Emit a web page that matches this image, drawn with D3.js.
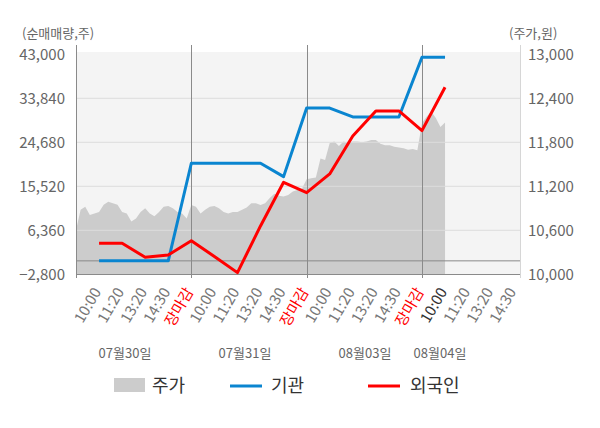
<!DOCTYPE html>
<html><head><meta charset="utf-8">
<script src="https://cdn.jsdelivr.net/npm/d3@7/dist/d3.min.js"></script>
<style>
body{margin:0;background:#fff;}
svg{display:block;font-family:"Noto Sans CJK KR","Noto Sans",sans-serif;}
</style></head>
<body><svg id="c" width="600" height="428"></svg>
<script>
// ---- data ----
const dayLabels = ["07월30일","07월31일","08월03일","08월04일"];
const timeLabels = ["10:00","11:20","13:20","14:30","장마감"];
const leftTicks = [-2800, 6360, 15520, 24680, 33840, 43000];
const rightTicks = [10000, 10600, 11200, 11800, 12400, 13000];
// net buying at slot 1..16
const institution = [0, 0, 0, 0, 20320, 20320, 20320, 20320, 17530, 31800, 31800, 29960, 29960, 29960, 42400, 42400];
const foreigner = [3660, 3660, 750, 1230, 4200, 900, -2450, 7270, 16360, 14200, 18100, 26000, 31200, 31200, 27110, 36140];
// intraday price, sampled every 1/5 slot
const priceDay1 = [10600,10880,10920,10810,10830,10850,10950,10990,10970,10950,10850,10830,10720,10760,10850,10900,10830,10790,10850,10920,10930,10900,10850,10830,10760];
const priceDay2 = [10945,10920,10830,10880,10920,10930,10900,10850,10830,10850,10850,10880,10910,10970,10970,10945,10970,11040,11100,11070,11060,11080,11130,11150,11170];
const priceDay3 = [11295,11310,11320,11580,11560,11790,11810,11750,11810,11790,11810,11810,11800,11810,11830,11830,11780,11760,11760,11740,11730,11720,11700,11710,11690];
const priceDay4 = [12060,12150,12220,12130,12010,12070];

const svg = d3.select("#c");
const L = 76, R = 520, T = 52, B = 274;
const x = d3.scaleLinear().domain([0, 19.25]).range([L, R]);
const yL = d3.scaleLinear().domain([-2800, 43000]).range([274.3, 54.3]);
const yR = d3.scaleLinear().domain([10000, 13000]).range([274.3, 54.3]);

svg.append("rect").attr("x", L).attr("y", T).attr("width", R - L).attr("height", B - T).attr("fill", "#f4f4f4");

// price area
const price = [];
[priceDay1, priceDay2, priceDay3, priceDay4].forEach((arr, d) => {
  arr.forEach((v, i) => price.push({ i: d * 5 + i * 0.2, v }));
});
svg.append("path").datum(price)
  .attr("fill", "#cccccc")
  .attr("d", d3.area().x(d => x(d.i)).y0(B).y1(d => yR(d.v)));

// gridlines
svg.append("g").selectAll("line").data(leftTicks.slice(1, 5)).join("line")
  .attr("x1", L).attr("x2", R).attr("y1", d => yL(d)).attr("y2", d => yL(d))
  .attr("stroke", "#dcdcdc").attr("stroke-width", 1);
// zero line
svg.append("line").attr("x1", L).attr("x2", R).attr("y1", yL(0)).attr("y2", yL(0))
  .attr("stroke", "#8a8a8a").attr("stroke-width", 1);

// day separators
svg.append("g").selectAll("line").data([0, 5, 10, 15]).join("line")
  .attr("x1", d => Math.round(x(d)) + 0.5).attr("x2", d => Math.round(x(d)) + 0.5)
  .attr("y1", 45).attr("y2", 278)
  .attr("stroke", "#8a8a8a").attr("stroke-width", 1);
// right axis line
svg.append("line").attr("x1", R + 0.5).attr("x2", R + 0.5).attr("y1", 45).attr("y2", 278)
  .attr("stroke", "#d6d6d6");
// bottom axis line
svg.append("line").attr("x1", L).attr("x2", R).attr("y1", B + 0.5).attr("y2", B + 0.5)
  .attr("stroke", "#8a8a8a");

// lines
const slot = (d, i) => ({ i: i + 1, v: d });
const line = d3.line().x(d => x(d.i)).y(d => yL(d.v));
svg.append("path").datum(institution.map(slot)).attr("fill", "none")
  .attr("stroke", "#0a85d0").attr("stroke-width", 3).attr("stroke-linejoin", "round").attr("d", line);
svg.append("path").datum(foreigner.map(slot)).attr("fill", "none")
  .attr("stroke", "#ff0000").attr("stroke-width", 3).attr("stroke-linejoin", "round").attr("d", line);

// y labels
svg.append("g").selectAll("text").data(leftTicks).join("text")
  .attr("x", 65).attr("y", d => yL(d)).attr("dy", "0.35em").attr("text-anchor", "end")
  .attr("font-size", 15).attr("fill", "#666").text(d => d3.format(",")(d));
svg.append("g").selectAll("text").data(rightTicks).join("text")
  .attr("x", 528).attr("y", d => yR(d)).attr("dy", "0.35em").attr("text-anchor", "start")
  .attr("font-size", 15).attr("fill", "#666").text(d => d3.format(",")(d));
svg.append("text").attr("x", 22).attr("y", 38).attr("font-size", 13).attr("fill", "#666").text("(순매매량,주)");
svg.append("text").attr("x", 509).attr("y", 38).attr("font-size", 13).attr("fill", "#666").text("(주가,원)");

// x labels
const xl = [];
for (let d = 0; d < 4; d++) {
  timeLabels.forEach((t, k) => {
    if (d === 3 && k === 4) return;
    xl.push({ i: d * 5 + k + 1, t, color: k === 4 ? "#ff0000" : (d === 3 && k === 0 ? "#333" : "#777") });
  });
}
svg.append("g").selectAll("text").data(xl).join("text")
  .attr("transform", d => `translate(${x(d.i) - 2},${B + 15}) rotate(-60)`)
  .attr("text-anchor", "end").attr("dy", "0.35em")
  .attr("font-size", 15).attr("fill", d => d.color).text(d => d.t);

// day labels
const dayX = [125, 245, 365, 440];
svg.append("g").selectAll("text").data(dayLabels).join("text")
  .attr("x", (d, i) => dayX[i]).attr("y", 358).attr("text-anchor", "middle")
  .attr("font-size", 13).attr("fill", "#666").text(d => d);

// legend
const lg = svg.append("g");
lg.append("rect").attr("x", 114).attr("y", 378).attr("width", 31).attr("height", 14).attr("fill", "#cccccc");
lg.append("text").attr("x", 152).attr("y", 386).attr("dy", "0.35em").attr("font-size", 18).attr("fill", "#333").text("주가");
lg.append("line").attr("x1", 230).attr("x2", 262).attr("y1", 386).attr("y2", 386).attr("stroke", "#0a85d0").attr("stroke-width", 3);
lg.append("text").attr("x", 271).attr("y", 386).attr("dy", "0.35em").attr("font-size", 18).attr("fill", "#333").text("기관");
lg.append("line").attr("x1", 368).attr("x2", 400).attr("y1", 386).attr("y2", 386).attr("stroke", "#ff0000").attr("stroke-width", 3);
lg.append("text").attr("x", 410).attr("y", 386).attr("dy", "0.35em").attr("font-size", 18).attr("fill", "#333").text("외국인");
</script></body></html>
